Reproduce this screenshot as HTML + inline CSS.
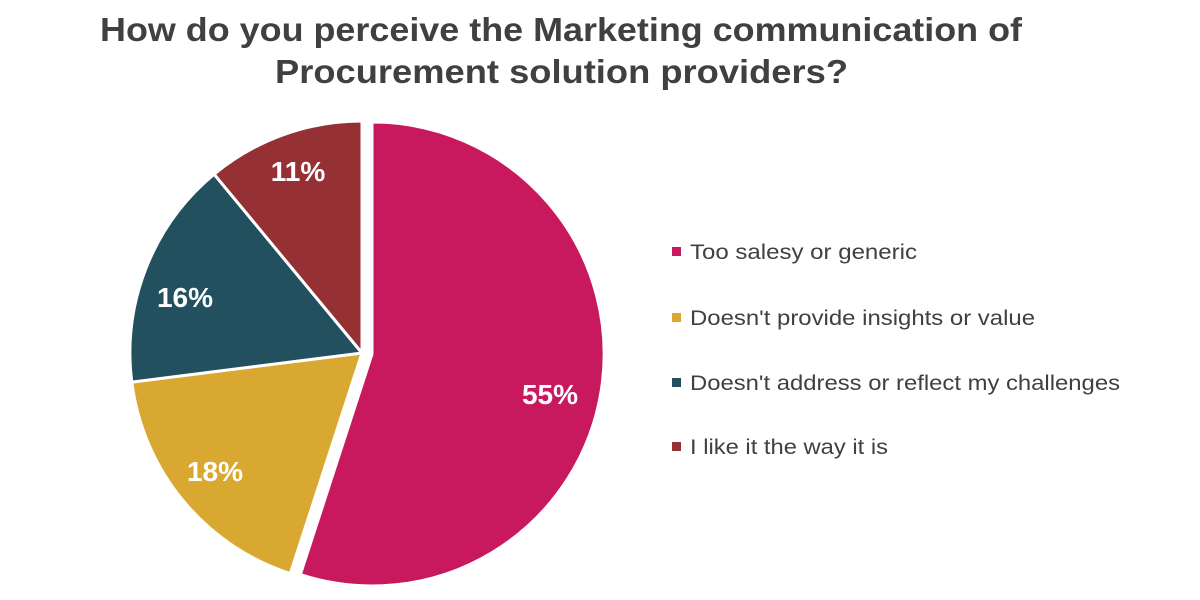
<!DOCTYPE html>
<html><head><meta charset="utf-8"><style>
html,body{margin:0;padding:0;background:#fff;width:1200px;height:600px;overflow:hidden}
</style></head><body>
<svg width="1200" height="600" xmlns="http://www.w3.org/2000/svg" font-family="Liberation Sans, Arial, sans-serif">
<text x="100" y="41" font-size="33" font-weight="bold" fill="#404040" textLength="922" lengthAdjust="spacingAndGlyphs">How do you perceive the Marketing communication of</text>
<text x="275" y="83" font-size="33" font-weight="bold" fill="#404040" textLength="573" lengthAdjust="spacingAndGlyphs">Procurement solution providers?</text>
<g stroke="#fff" stroke-width="3" stroke-linejoin="round">
<path d="M372,354 L372,122 A232,232 0 1 1 300.3,574.6 Z" fill="#C8195E"/>
<path d="M362,353 L290.3,573.6 A232,232 0 0 1 131.8,382.1 Z" fill="#D8A831"/>
<path d="M362,353 L131.8,382.1 A232,232 0 0 1 214.1,174.2 Z" fill="#22505F"/>
<path d="M362,353 L214.1,174.2 A232,232 0 0 1 362,121 Z" fill="#953035"/>
</g>
<g fill="#fff" font-size="28" font-weight="bold" text-anchor="middle">
<text x="550" y="404">55%</text>
<text x="215" y="481">18%</text>
<text x="185" y="307">16%</text>
<text x="298" y="181">11%</text>
</g>
<g font-size="21" fill="#404040" lengthAdjust="spacingAndGlyphs">
<rect x="672" y="247" width="9" height="9" fill="#C8195E"/>
<text x="690" y="259" textLength="227" lengthAdjust="spacingAndGlyphs">Too salesy or generic</text>
<rect x="672" y="313" width="9" height="9" fill="#D8A831"/>
<text x="690" y="325" textLength="345" lengthAdjust="spacingAndGlyphs">Doesn't provide insights or value</text>
<rect x="672" y="378" width="9" height="9" fill="#22505F"/>
<text x="690" y="390" textLength="430" lengthAdjust="spacingAndGlyphs">Doesn't address or reflect my challenges</text>
<rect x="672" y="442" width="9" height="9" fill="#953035"/>
<text x="690" y="454" textLength="198" lengthAdjust="spacingAndGlyphs">I like it the way it is</text>
</g>
</svg>
</body></html>
